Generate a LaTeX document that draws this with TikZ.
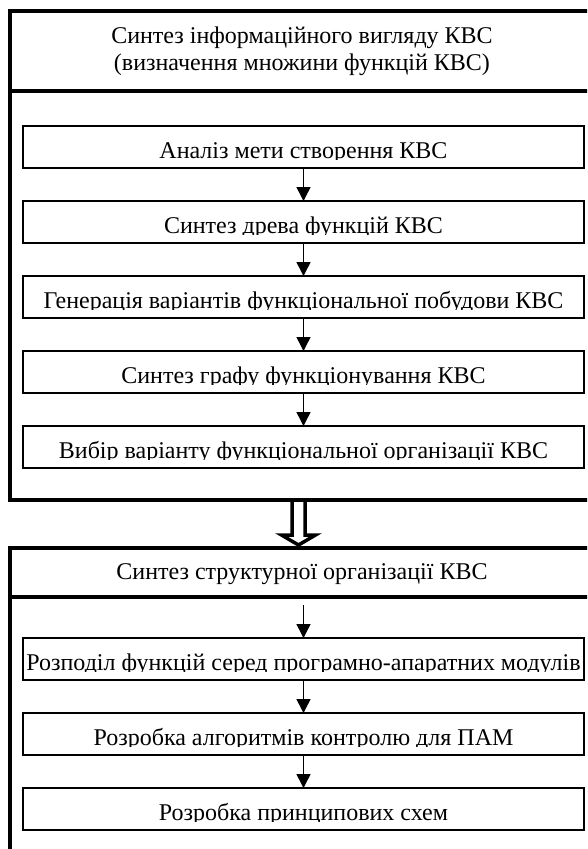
\documentclass[tikz,border=0pt]{standalone}
\usepackage{fontspec}
\setmainfont{Liberation Serif}
\usetikzlibrary{arrows.meta,calc}
\tikzset{
  frame/.style={draw, line width=4pt, outer sep=0pt, inner sep=0pt, anchor=north west, minimum width=620pt},
  stepbox/.style={draw, line width=1.5pt, outer sep=0pt, inner sep=0pt, anchor=north west, minimum width=561pt, minimum height=42pt},
  flow/.style={line width=1.5pt, -{Triangle[length=14pt,width=14pt]}},
  hollow/.style={line width=3.5pt, fill=white, line join=miter},
  title/.style={anchor=base, inner sep=0pt, align=center}
}
\newcommand\boxlabel[1]{%
  \clip ([yshift=9pt]path picture bounding box.south west) rectangle (path picture bounding box.north east);
  \node[anchor=base, inner sep=0pt] at ([yshift=10pt]path picture bounding box.south) {#1};}
\begin{document}
\begin{tikzpicture}[x=1pt, y=-1pt, font=\fontsize{24}{27}\selectfont]
\clip (0,0) rectangle (587,849);

\node[frame, minimum height=489pt] (grpA) at (10,11) {};
\draw[line width=4pt] (grpA.west |- 0,91) -- (grpA.east |- 0,91);
\node[title] (headA) at (302,70) {Синтез інформаційного вигляду КВС\\(визначення множини функцій КВС)};

\node[stepbox, path picture={\boxlabel{Аналіз мети створення КВС}}] (goal) at (23,126) {};
\node[stepbox, path picture={\boxlabel{Синтез древа функцій КВС}}] (tree) at (23,201) {};
\node[stepbox, path picture={\boxlabel{Генерація варіантів функціональної побудови КВС}}] (variants) at (23,276) {};
\node[stepbox, path picture={\boxlabel{Синтез графу функціонування КВС}}] (graph) at (23,351) {};
\node[stepbox, path picture={\boxlabel{Вибір варіанту функціональної організації КВС}}] (choice) at (23,426) {};

\draw[flow] (goal.south) -- (tree.north);
\draw[flow] (tree.south) -- (variants.north);
\draw[flow] (variants.south) -- (graph.north);
\draw[flow] (graph.south) -- (choice.north);

\node[frame, minimum height=400pt] (grpB) at (10,548) {};
\draw[line width=4pt] (grpB.west |- 0,597) -- (grpB.east |- 0,597);
\node[title] (headB) at (302,579) {Синтез структурної організації КВС};

\coordinate (startB) at (303.5,605);
\node[stepbox, path picture={\boxlabel{Розподіл функцій серед програмно-апаратних модулів}}] (split) at (23,638) {};
\node[stepbox, path picture={\boxlabel{Розробка алгоритмів контролю для ПАМ}}] (control) at (23,713) {};
\node[stepbox, path picture={\boxlabel{Розробка принципових схем}}] (scheme) at (23,788) {};

\draw[flow] (startB) -- (split.north);
\draw[flow] (split.south) -- (control.north);
\draw[flow] (control.south) -- (scheme.north);

\coordinate (dA) at (298.5,0 |- grpA.south);
\coordinate (dB) at (298.5,0 |- grpB.north);
\draw[hollow] ([xshift=-6.5pt,yshift=-2pt]dA) -- ([xshift=-6.5pt,yshift=13pt]dB) -- ([xshift=-17pt,yshift=13pt]dB) -- ([yshift=3pt]dB) -- ([xshift=17pt,yshift=13pt]dB) -- ([xshift=6.5pt,yshift=13pt]dB) -- ([xshift=6.5pt,yshift=-2pt]dA);
\end{tikzpicture}
\end{document}
